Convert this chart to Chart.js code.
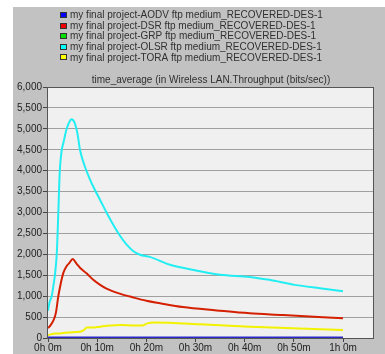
<!DOCTYPE html>
<html><head><meta charset="utf-8">
<script src="https://cdn.jsdelivr.net/npm/chart.js@4"></script>
<style>
html,body{margin:0;padding:0;background:#fff;width:385px;height:354px;overflow:hidden}
#panel{position:absolute;left:13px;top:7px;width:372px;height:347px;background:#c2c2c2}
#wrap{position:absolute;left:0;top:0;width:385px;height:354px}
</style></head><body>
<div id="panel"></div>
<div id="wrap"><canvas id="c" width="385" height="354"></canvas></div>
<script>
// Series labels
const seriesLabels = [
  'my final project-AODV ftp medium_RECOVERED-DES-1',
  'my final project-DSR ftp medium_RECOVERED-DES-1',
  'my final project-GRP ftp medium_RECOVERED-DES-1',
  'my final project-OLSR ftp medium_RECOVERED-DES-1',
  'my final project-TORA ftp medium_RECOVERED-DES-1'
];
const chartTitle = 'time_average (in Wireless LAN.Throughput (bits/sec))';

// Time (minutes) and values for each series
const aodvMin = [0, 60];
const aodvVal = [5, 5];
const grpMin = [0, 60];
const grpVal = [0, 0];
const dsrMin = [0, 0.5, 1.1, 1.6, 2.1, 2.5, 3.1, 3.8, 4.4, 5.0, 5.8, 6.5, 7.9, 9.2, 10.6, 11.9, 14.6, 17.3, 20, 22.8, 27.4, 34.3, 41, 47.8, 60];
const dsrVal = [240, 300, 420, 600, 1000, 1250, 1550, 1720, 1800, 1890, 1780, 1680, 1540, 1390, 1270, 1180, 1060, 970, 890, 830, 740, 660, 590, 550, 470];
const olsrMin = [0, 0.3, 0.75, 1.1, 1.4, 1.8, 2.1, 2.4, 2.8, 3.1, 3.8, 4.5, 4.8, 5.4, 6.0, 6.5, 7.5, 8.5, 9.5, 10.6, 11.9, 13.3, 14.6, 16.0, 17.3, 18.7, 20.7, 24.8, 29.9, 35, 41, 45, 50.2, 55.3, 60];
const olsrVal = [650, 850, 1000, 1250, 1500, 2050, 3000, 4000, 4500, 4650, 5000, 5200, 5230, 5150, 4880, 4500, 4100, 3800, 3550, 3300, 3000, 2700, 2450, 2230, 2080, 1990, 1940, 1750, 1620, 1510, 1460, 1390, 1270, 1190, 1120];
const toraMin = [0, 1.1, 2.5, 3.8, 5.1, 6.5, 7.3, 7.9, 9, 10.6, 12, 15, 17.5, 19.2, 20.2, 21.5, 31, 41, 51, 60];
const toraVal = [70, 100, 110, 130, 140, 150, 190, 250, 250, 270, 290, 310, 300, 300, 350, 370, 330, 270, 230, 190];

// X ticks (minutes) and Y tick step
const xTickStep = 10;
const yTickStep = 500;

function pts(xs, ys) { return xs.map((x, i) => ({x: x, y: ys[i]})); }
function fmtTime(m) { const h = Math.floor(m / 60); return h + 'h ' + Math.round(m - h * 60) + 'm'; }

const lineColors = ['#2a2ac8', '#d42000', '#00c000', '#22eef2', '#f2f200'];
const boxColors = ['#0000ff', '#ee0000', '#00e000', '#00ffff', '#ffff00'];

const sets = [pts(aodvMin, aodvVal), pts(dsrMin, dsrVal), pts(grpMin, grpVal), pts(olsrMin, olsrVal), pts(toraMin, toraVal)];

const deco = {
  id: 'deco',
  beforeDraw(chart) {
    const a = chart.chartArea, ctx = chart.ctx;
    ctx.save();
    ctx.fillStyle = '#f0f0f0';
    ctx.fillRect(a.left, a.top, a.right - a.left, a.bottom - a.top);
    ctx.restore();
  },
  beforeDatasetsDraw(chart) {
    const a = chart.chartArea, ctx = chart.ctx;
    ctx.save();
    ctx.strokeStyle = '#555';
    ctx.lineWidth = 1;
    ctx.strokeRect(Math.round(a.left) - 0.5, Math.round(a.top) + 0.5, Math.round(a.right - a.left) + 0, Math.round(a.bottom - a.top));
    ctx.restore();
  },
  afterDraw(chart) {
    const ctx = chart.ctx, a = chart.chartArea;
    ctx.save();
    ctx.font = '10px "Liberation Sans", Arial, sans-serif';
    ctx.textBaseline = 'middle';
    chart.data.datasets.forEach((ds, i) => {
      const y = 15 + i * 10.6;
      ctx.fillStyle = boxColors[i];
      ctx.fillRect(60, Math.round(y) - 3, 7, 6);
      ctx.strokeStyle = '#333';
      ctx.lineWidth = 1;
      ctx.strokeRect(60.5, Math.round(y) - 2.5, 6, 5);
      ctx.fillStyle = '#303030';
      ctx.textAlign = 'left';
      ctx.fillText(ds.label, 70, y + 0.5);
    });
    ctx.textAlign = 'center';
    ctx.fillStyle = '#303030';
    ctx.fillText(chartTitle, (a.left + a.right) / 2, 80);
    ctx.restore();
  }
};

new Chart(document.getElementById('c'), {
  type: 'line',
  data: {
    datasets: seriesLabels.map((lab, i) => ({
      label: lab,
      data: sets[i],
      borderColor: lineColors[i],
      backgroundColor: lineColors[i],
      borderWidth: i === 0 ? 2.5 : 2,
      pointRadius: 0,
      cubicInterpolationMode: 'monotone',
      fill: false
    }))
  },
  options: {
    responsive: false,
    animation: false,
    devicePixelRatio: 1,
    layout: { padding: { top: 87, right: 11, bottom: 0, left: 0 } },
    plugins: { legend: { display: false }, title: { display: false }, tooltip: { enabled: false } },
    scales: {
      x: {
        type: 'linear', min: 0, max: 66.3,
        ticks: { stepSize: xTickStep, includeBounds: false, autoSkip: false, maxRotation: 0,
          callback: v => fmtTime(v), color: '#222', padding: 0,
          font: { family: '"Liberation Sans", Arial, sans-serif', size: 10 } },
        grid: { display: true, drawOnChartArea: false, drawTicks: true, tickLength: 4, tickColor: '#444' },
        border: { display: false },
        afterFit: s => { s.height = 16; }
      },
      y: {
        min: 0, max: 6000,
        ticks: { stepSize: yTickStep, callback: v => v.toLocaleString('en-US'), color: '#222', padding: 1,
          font: { family: '"Liberation Sans", Arial, sans-serif', size: 10 } },
        grid: { color: '#a0a0a0', tickLength: 5, tickColor: '#444' },
        border: { display: false },
        afterFit: s => { s.width = 48; }
      }
    }
  },
  plugins: [deco]
});
</script>
</body></html>
